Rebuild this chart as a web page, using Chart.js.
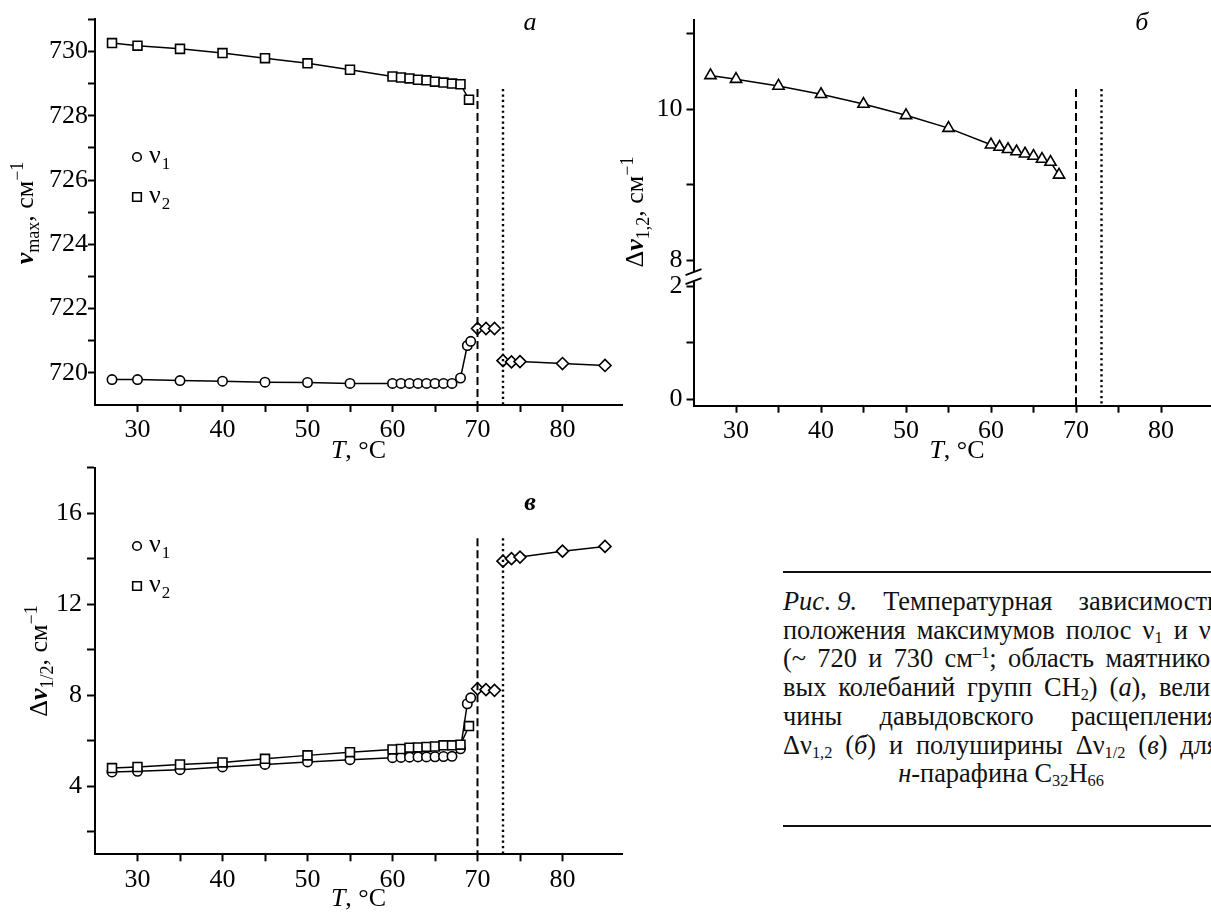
<!DOCTYPE html>
<html>
<head>
<meta charset="utf-8">
<script src="https://cdn.jsdelivr.net/npm/chart.js@4/dist/chart.umd.min.js"></script>
<style>
html,body{margin:0;padding:0;background:#fff;overflow:hidden;width:1211px;height:914px;}
.box{position:absolute;}
#cap{position:absolute;left:783px;top:587px;width:436px;font-family:"Liberation Serif","Times New Roman",serif;font-size:26.4px;line-height:28.7px;color:#111;}
#cap .j{text-align:justify;text-align-last:justify;white-space:nowrap;}
#cap .c{text-align:center;white-space:nowrap;}
#cap .k{display:inline-block;}
#cap sub,#cap sup{font-size:0.62em;line-height:0;}
#cap sub{vertical-align:-0.25em;}
#cap sup{vertical-align:0.55em;}
.rule{position:absolute;left:783px;width:440px;height:2px;background:#111;}
</style>
</head>
<body>
<div class="box" style="left:0;top:0;width:630px;height:470px"><canvas id="ca" width="630" height="470"></canvas></div>
<div class="box" style="left:600px;top:0;width:640px;height:470px"><canvas id="cb" width="640" height="470"></canvas></div>
<div class="box" style="left:0;top:440px;width:630px;height:474px"><canvas id="cc" width="630" height="474"></canvas></div>

<div class="rule" style="top:571px"></div>
<div id="cap">
<div class="j"><span class="k"><i>Рис</i>. <i>9.</i></span> Температурная зависимость</div>
<div class="j">положения максимумов полос ν<sub>1</sub> и ν<sub>2</sub></div>
<div class="j">(~ 720 и 730 см<sup>–1</sup>; область маятнико-</div>
<div class="j">вых колебаний групп CH<sub>2</sub>) (<i>а</i>), вели-</div>
<div class="j">чины давыдовского расщепления</div>
<div class="j">Δν<sub>1,2</sub> (<i>б</i>) и полуширины Δν<sub>1/2</sub> (<i>в</i>) для</div>
<div class="c"><i>н</i>-парафина C<sub>32</sub>H<sub>66</sub></div>
</div>
<div class="rule" style="top:825px"></div>

<script>
// ---------------- DATA ----------------
const tNu1 = [27,30,35,40,45,50,55,60,61,62,63,64,65,66,67,68,68.8,69.2];
const tNu2 = [27,30,35,40,45,50,55,60,61,62,63,64,65,66,67,68,69];
const tMeltA = [70,71,72];
const tMeltB = [73,74,75,80,85];
const tSplit = [27,30,35,40,45,50,55,60,61,62,63,64,65,66,67,68];

// panel a: band maxima, cm-1
const nu1Max = [719.79,719.79,719.76,719.74,719.71,719.70,719.67,719.67,719.67,719.67,719.67,719.67,719.67,719.67,719.67,719.84,720.85,720.98];
const nu2Max = [730.26,730.18,730.08,729.95,729.79,729.63,729.43,729.22,729.19,729.16,729.12,729.10,729.06,729.03,729.00,728.98,728.50];
const meltMaxA = [721.38,721.38,721.38];
const meltMaxB = [720.38,720.34,720.35,720.29,720.23];

// panel b: Davydov splitting, cm-1
const splitting = [10.45,10.40,10.31,10.20,10.07,9.92,9.75,9.53,9.50,9.47,9.44,9.41,9.38,9.34,9.30,9.13];

// panel c: half-widths, cm-1
const width1 = [4.62,4.65,4.72,4.84,4.95,5.06,5.16,5.25,5.26,5.27,5.28,5.28,5.29,5.30,5.31,5.64,7.62,7.88];
const width2 = [4.79,4.84,4.95,5.04,5.20,5.35,5.49,5.61,5.63,5.69,5.70,5.72,5.74,5.79,5.79,5.82,6.64];
const meltWidthA = [8.28,8.24,8.21];
const meltWidthB = [13.89,14.00,14.07,14.33,14.54];

// phase transitions (dashed, dotted) and top ends of those lines per panel
const transitions = [70, 73];
const lineTopA = 728.83, lineTopB = 10.27, lineTopC = 14.9;

// tick labels
const xLabels = [30,40,50,60,70,80];
const yLabelsA = [720,722,724,726,728,730];
const yLabelsBUp = [8,10];
const yLabelsBLow = [0,2];
const yLabelsC = [4,8,12,16];

// axis ranges
const X_MIN = 25, X_MAX = 87;
const A_MIN = 719, A_MAX = 731;
const BU_MIN = 7.773, BU_MAX = 11.185;
const BL_MIN = -0.113, BL_MAX = 2.157;
const C_MIN = 1, C_MAX = 18;

// ---------------- HELPERS ----------------
const FONT = '"Liberation Serif","Times New Roman",serif';
const DASHES = [[8,4],[2.2,3.2]];

function has(list, v){ return list.some(l => Math.abs(l - v) < 1e-6); }

function xScale(height){
  return {
    type:'linear', min:X_MIN, max:X_MAX,
    ticks:{stepSize:5, autoSkip:false, maxRotation:0, minRotation:0, padding:3, color:'#000',
      font:{family:FONT, size:26}, callback:v => has(xLabels, v) ? String(v) : ''},
    afterBuildTicks: s => { s.ticks = s.ticks.filter(t => t.value >= 29.9 && t.value <= 85.1); },
    afterFit: s => { s.height = height; },
    grid:{drawOnChartArea:false, drawTicks:true, tickLength:7, tickWidth:2, color:'#000'},
    border:{display:true, color:'#000', width:2}
  };
}
function yScale(min, max, step, labels, width, tickLen, pad, extra){
  return Object.assign({
    type:'linear', position:'left', min:min, max:max,
    ticks:{stepSize:step, includeBounds:false, autoSkip:false, padding:pad, color:'#000',
      font:{family:FONT, size:26}, callback:v => has(labels, v) ? String(v) : ''},
    afterBuildTicks: s => { s.ticks = s.ticks.filter(t => t.value > min + 1e-6 && t.value <= max + 1e-6); },
    afterFit: s => { s.width = width; },
    grid:{drawOnChartArea:false, drawTicks:true, tickLength:tickLen, tickWidth:2, color:'#000'},
    border:{display:true, color:'#000', width:2}
  }, extra || {});
}
function series(xs, ys, style, r, extra){
  return Object.assign({
    data: xs.map((x, i) => ({x: x, y: ys[i]})),
    showLine:true, borderColor:'#000', borderWidth:1.5, tension:0, fill:false,
    pointStyle:style, pointRadius:r, pointHoverRadius:r, pointBorderWidth:1.6,
    pointBackgroundColor:'#fff', pointBorderColor:'#000'
  }, extra || {});
}
function vline(x, top, bottom, dash, width, extra){
  return Object.assign({
    data:[{x:x, y:top},{x:x, y:bottom}],
    showLine:true, borderColor:'#000', borderWidth:width, borderDash:dash, borderCapStyle:'butt',
    pointRadius:0, pointHoverRadius:0, fill:false, order:-1
  }, extra || {});
}
function rich(ctx, segs, x, y, rot){
  ctx.save();
  ctx.translate(x, y);
  ctx.rotate(rot || 0);
  ctx.fillStyle = '#000';
  ctx.textBaseline = 'alphabetic';
  ctx.textAlign = 'left';
  let total = 0;
  segs.forEach(s => {
    ctx.font = (s.st || '') + ' ' + (s.w || '') + ' ' + (s.sz || 26) + 'px ' + FONT;
    s._w = ctx.measureText(s.t).width;
    total += s._w;
  });
  let cx = -total / 2;
  segs.forEach(s => {
    ctx.font = (s.st || '') + ' ' + (s.w || '') + ' ' + (s.sz || 26) + 'px ' + FONT;
    ctx.fillText(s.t, cx, s.dy || 0);
    cx += s._w;
  });
  ctx.restore();
}
function legendMark(ctx, style, x, y){
  ctx.save();
  ctx.strokeStyle = '#000'; ctx.fillStyle = '#fff'; ctx.lineWidth = 1.6;
  ctx.beginPath();
  if (style === 'circle') ctx.arc(x, y, 4.3, 0, Math.PI * 2);
  else ctx.rect(x - 4.3, y - 4.3, 8.6, 8.6);
  ctx.fill(); ctx.stroke();
  ctx.restore();
}
function legendText(ctx, sub, x, y){
  ctx.save();
  ctx.fillStyle = '#000'; ctx.textBaseline = 'alphabetic'; ctx.textAlign = 'left';
  ctx.font = '26px ' + FONT;
  ctx.fillText('ν', x, y);
  const w = ctx.measureText('ν').width;
  ctx.font = '17px ' + FONT;
  ctx.fillText(sub, x + w + 1, y + 6);
  ctx.restore();
}
function deco(fn){ return {id:'deco', afterDraw(chart){ fn(chart.ctx, chart); }}; }
function common(padding){
  return {
    responsive:false, animation:false, devicePixelRatio:1,
    layout:{padding:padding},
    plugins:{legend:{display:false}, tooltip:{enabled:false}},
    events:[]
  };
}

// ---------------- PANEL a ----------------
new Chart(document.getElementById('ca'), {
  type:'scatter',
  data:{datasets:[
    vline(transitions[0], lineTopA, A_MIN, DASHES[0], 2),
    vline(transitions[1], lineTopA, A_MIN, DASHES[1], 2.4),
    series(tNu2, nu2Max, 'rect', 6.3),
    series(tNu1, nu1Max, 'circle', 4.7),
    series(tMeltA, meltMaxA, 'rectRot', 6),
    series(tMeltB, meltMaxB, 'rectRot', 6)
  ]},
  options:Object.assign(common({left:0, top:19.3, right:8, bottom:0}), {
    scales:{ x:xScale(65), y:yScale(A_MIN, A_MAX, 1, yLabelsA, 95, 7, 0) }
  }),
  plugins:[deco((ctx, chart) => {
    const ca = chart.chartArea;
    rich(ctx, [{t:'ν', st:'italic', w:'bold'}, {t:'max', sz:18, dy:6}, {t:', см'}, {t:'−1', sz:18, dy:-10}], 33, 213, -Math.PI/2);
    rich(ctx, [{t:'T', st:'italic'}, {t:', °C'}], (ca.left + ca.right) / 2, 458, 0);
    rich(ctx, [{t:'a', st:'italic'}], 530, 30, 0);
    legendMark(ctx, 'circle', 137, 157); legendText(ctx, '1', 149, 163);
    legendMark(ctx, 'rect', 137, 197); legendText(ctx, '2', 149, 203);
  })]
});

// ---------------- PANEL b ----------------
new Chart(document.getElementById('cb'), {
  type:'scatter',
  data:{datasets:[
    vline(transitions[0], lineTopB, BU_MIN, DASHES[0], 2, {yAxisID:'yUp'}),
    vline(transitions[0], BL_MAX, BL_MIN, DASHES[0], 2, {yAxisID:'yLow'}),
    vline(transitions[1], lineTopB, BU_MIN, DASHES[1], 2.4, {yAxisID:'yUp'}),
    vline(transitions[1], BL_MAX, BL_MIN, DASHES[1], 2.4, {yAxisID:'yLow'}),
    series(tSplit, splitting, 'triangle', 6.5, {yAxisID:'yUp'})
  ]},
  options:Object.assign(common({left:0, top:20, right:19.5, bottom:0}), {
    scales:{
      x:xScale(64.3),
      yLow:yScale(BL_MIN, BL_MAX, 1, yLabelsBLow, 93.5, 7, 4, {stack:'b', stackWeight:1}),
      yUp:yScale(BU_MIN, BU_MAX, 1, yLabelsBUp, 93.5, 7, 4, {stack:'b', stackWeight:2})
    }
  }),
  plugins:[deco((ctx, chart) => {
    const ca = chart.chartArea;
    const up = chart.scales.yUp;
    const bx = up.right, by = up.bottom;
    // axis break
    ctx.save();
    ctx.fillStyle = '#fff';
    ctx.beginPath();
    ctx.moveTo(bx - 8, by - 2); ctx.lineTo(bx + 8, by - 8); ctx.lineTo(bx + 8, by + 1); ctx.lineTo(bx - 8, by + 7);
    ctx.closePath(); ctx.fill();
    ctx.strokeStyle = '#000'; ctx.lineWidth = 1.8;
    ctx.beginPath();
    ctx.moveTo(bx - 8, by - 2); ctx.lineTo(bx + 8, by - 8);
    ctx.moveTo(bx - 8, by + 7); ctx.lineTo(bx + 8, by + 1);
    ctx.stroke();
    ctx.restore();
    rich(ctx, [{t:'Δ'}, {t:'ν', st:'italic', w:'bold'}, {t:'1,2', sz:18, dy:6}, {t:', см'}, {t:'−1', sz:18, dy:-10}], 43, 212, -Math.PI/2);
    rich(ctx, [{t:'T', st:'italic'}, {t:', °C'}], (ca.left + ca.right) / 2, 458, 0);
    rich(ctx, [{t:'б', st:'italic'}], 541.7, 30, 0);
  })]
});

// ---------------- PANEL c ----------------
new Chart(document.getElementById('cc'), {
  type:'scatter',
  data:{datasets:[
    vline(transitions[0], lineTopC, C_MIN, DASHES[0], 2),
    vline(transitions[1], lineTopC, C_MIN, DASHES[1], 2.4),
    series(tNu2, width2, 'rect', 6.3),
    series(tNu1, width1, 'circle', 4.7),
    series(tMeltA, meltWidthA, 'rectRot', 6),
    series(tMeltB, meltWidthB, 'rectRot', 6)
  ]},
  options:Object.assign(common({left:0, top:27.7, right:8, bottom:0}), {
    scales:{ x:xScale(59.7), y:yScale(C_MIN, C_MAX, 2, yLabelsC, 95, 8, 5) }
  }),
  plugins:[deco((ctx, chart) => {
    const ca = chart.chartArea;
    rich(ctx, [{t:'Δ'}, {t:'ν', st:'italic', w:'bold'}, {t:'1/2', sz:18, dy:6}, {t:', см'}, {t:'−1', sz:18, dy:-10}], 47, 221, -Math.PI/2);
    rich(ctx, [{t:'T', st:'italic'}, {t:', °C'}], (ca.left + ca.right) / 2, 466, 0);
    rich(ctx, [{t:'в', st:'italic', w:'bold'}], 530, 70, 0);
    legendMark(ctx, 'circle', 137, 106); legendText(ctx, '1', 149, 112);
    legendMark(ctx, 'rect', 137, 146); legendText(ctx, '2', 149, 152);
  })]
});
</script>
</body>
</html>
